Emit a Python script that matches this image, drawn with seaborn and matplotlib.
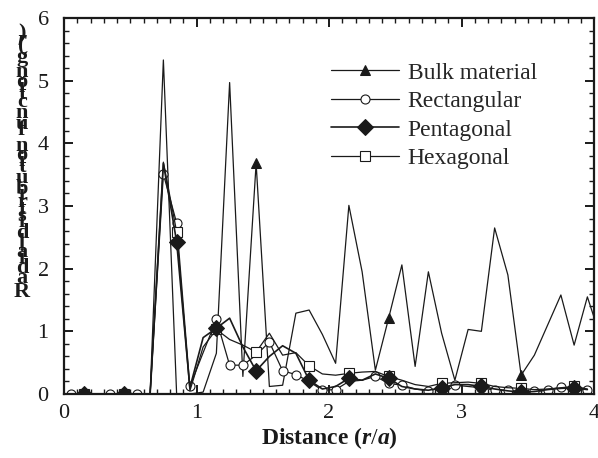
import numpy as np
import pandas as pd
import matplotlib
matplotlib.use('Agg')
import matplotlib.pyplot as plt
from matplotlib.font_manager import FontProperties
from matplotlib.ticker import MultipleLocator
import seaborn as sns

# ---------------- data ----------------
r = [0.05, 0.15, 0.25, 0.35, 0.45, 0.55, 0.65, 0.75, 0.85, 0.95,
     1.05, 1.15, 1.25, 1.35, 1.45, 1.55, 1.65, 1.75, 1.85, 1.95,
     2.05, 2.15, 2.25, 2.35, 2.45, 2.55, 2.65, 2.75, 2.85, 2.95,
     3.05, 3.15, 3.25, 3.35, 3.45, 3.55, 3.65, 3.75, 3.85, 3.95]
r_bulk = r + [4.05]

bulk = [0, 0, 0, 0, 0, 0, 0, 5.33, 0, 0,
        0.03, 0.65, 4.97, 0.28, 3.68, 0.12, 0.14, 1.29, 1.34, 0.95,
        0.49, 3.01, 1.95, 0.38, 1.21, 2.06, 0.44, 1.95, 0.97, 0.22,
        1.03, 1.00, 2.65, 1.90, 0.30, 0.62, 1.10, 1.58, 0.78, 1.55, 0.90]

rectangular = [0, 0, 0, 0, 0, 0, 0, 3.51, 2.73, 0.12,
               0.66, 1.19, 0.46, 0.46, 0.62, 0.83, 0.37, 0.31, 0.20, 0.06,
               0.07, 0.20, 0.22, 0.28, 0.17, 0.14, 0.08, 0.05, 0.10, 0.14,
               0.12, 0.10, 0.06, 0.06, 0.04, 0.04, 0.06, 0.11, 0.08, 0.06]

pentagonal = [0, 0, 0, 0, 0, 0, 0, 3.68, 2.43, 0.10,
              0.90, 1.05, 1.21, 0.75, 0.37, 0.60, 0.77, 0.65, 0.22, 0.08,
              0.12, 0.25, 0.22, 0.32, 0.25, 0.12, 0.08, 0.06, 0.10, 0.15,
              0.15, 0.12, 0.08, 0.05, 0.03, 0.04, 0.07, 0.09, 0.10, 0.07]

hexagonal = [0, 0, 0, 0, 0, 0, 0, 3.70, 2.59, 0.05,
             0.75, 1.03, 0.87, 0.78, 0.67, 0.97, 0.62, 0.66, 0.45, 0.32,
             0.30, 0.33, 0.35, 0.36, 0.28, 0.22, 0.15, 0.12, 0.17, 0.18,
             0.19, 0.17, 0.12, 0.10, 0.09, 0.07, 0.08, 0.10, 0.12, 0.08]

# which points carry a marker
bulk_marks = [4, 14, 24, 34]
rect_marks = [0, 3, 5, 7, 8, 9, 11, 12, 13, 15, 16, 17, 19, 20, 23, 24, 25, 27, 29,
              31, 32, 33, 35, 36, 37, 39]
poly_marks = [1, 4, 8, 11, 14, 18, 21, 24, 28, 31, 34, 38]

sns.set_theme(style='ticks')
plt.rcParams['font.family'] = ['Liberation Serif', 'DejaVu Serif']
plt.rcParams['mathtext.fontset'] = 'custom'
plt.rcParams['mathtext.rm'] = 'Liberation Serif'
plt.rcParams['mathtext.it'] = 'Liberation Serif:italic:bold'
plt.rcParams['mathtext.bf'] = 'Liberation Serif:bold'

W, H = 598, 458
fig = plt.figure(figsize=(W / 100, H / 100), dpi=100)
ax = fig.add_axes([64 / W, (H - 394) / H, 530 / W, 376 / H])

lw = 0.9
sns.lineplot(x=r_bulk, y=bulk, ax=ax, color='k', lw=lw, marker='^', ms=7.5,
             markevery=bulk_marks, mec='k', mfc='k', label='Bulk material',
             sort=False, errorbar=None)
sns.lineplot(x=r, y=rectangular, ax=ax, color='k', lw=lw, marker='o', ms=6.5,
             markevery=rect_marks, mec='k', mfc='white', mew=0.8,
             label='Rectangular', sort=False, errorbar=None)
sns.lineplot(x=r, y=pentagonal, ax=ax, color='k', lw=lw + 0.3, marker='D', ms=8,
             markevery=poly_marks, mec='k', mfc='k', label='Pentagonal',
             sort=False, errorbar=None, zorder=4)
sns.lineplot(x=r, y=hexagonal, ax=ax, color='k', lw=lw, marker='s', ms=6.5,
             markevery=poly_marks, mec='k', mfc='white', mew=0.8,
             label='Hexagonal', sort=False, errorbar=None)

ax.set_xlim(0, 4)
ax.set_ylim(0, 6)
ax.xaxis.set_major_locator(MultipleLocator(1))
ax.xaxis.set_minor_locator(MultipleLocator(0.1))
ax.yaxis.set_major_locator(MultipleLocator(1))
ax.yaxis.set_minor_locator(MultipleLocator(0.2))
ax.tick_params(which='both', direction='in', top=True, right=True, colors='k',
               labelsize=16)
ax.tick_params(which='major', length=6.5, width=1.4)
ax.tick_params(which='minor', length=3.6, width=1.0)
ax.tick_params(axis='y', which='major', pad=11)
ax.tick_params(axis='x', which='major', pad=7)
for s in ax.spines.values():
    s.set_linewidth(1.6)
    s.set_color('k')

ax.set_xlabel(r'Distance ($\mathit{r/a}$)', fontsize=17, fontweight='bold',
              color='k', labelpad=2)
ax.set_ylabel('')

ax.legend(loc='upper left', bbox_to_anchor=(331 / W, 1 - 62 / H),
          bbox_transform=fig.transFigure, frameon=False, fontsize=17,
          handlelength=2.9, handletextpad=0.35, labelspacing=0.3,
          borderpad=0, borderaxespad=0)

# y label drawn as upright stacked characters, bottom to top
ylab = 'Radial distribution function g(r)'
fp = FontProperties(family='Liberation Serif', weight='bold', size=16)
fp_it = FontProperties(family='Liberation Serif', weight='bold', style='italic', size=16)
renderer = fig.canvas.get_renderer()
props, steps = [], []
for i, ch in enumerate(ylab):
    prop = fp_it if (ch == 'r' and i == len(ylab) - 2) else fp
    w, h, d = renderer.get_text_width_height_descent(ch, prop, ismath=False)
    if ch == ' ':
        w = 0.25 * 16 * 100 / 72
    props.append(prop)
    steps.append(w)
# squeeze the stack so it runs from y=297 up to y=38 (pixels from the top)
scale = (297 - 38) / sum(steps[:-1])
ypos = 297.0
for ch, prop, w in zip(ylab, props, steps):
    if ch != ' ':
        fig.text(22 / W, 1 - ypos / H, ch, fontproperties=prop, ha='center',
                 va='baseline', color='k')
    ypos -= w * scale

fig.savefig('out.png', dpi=100)
